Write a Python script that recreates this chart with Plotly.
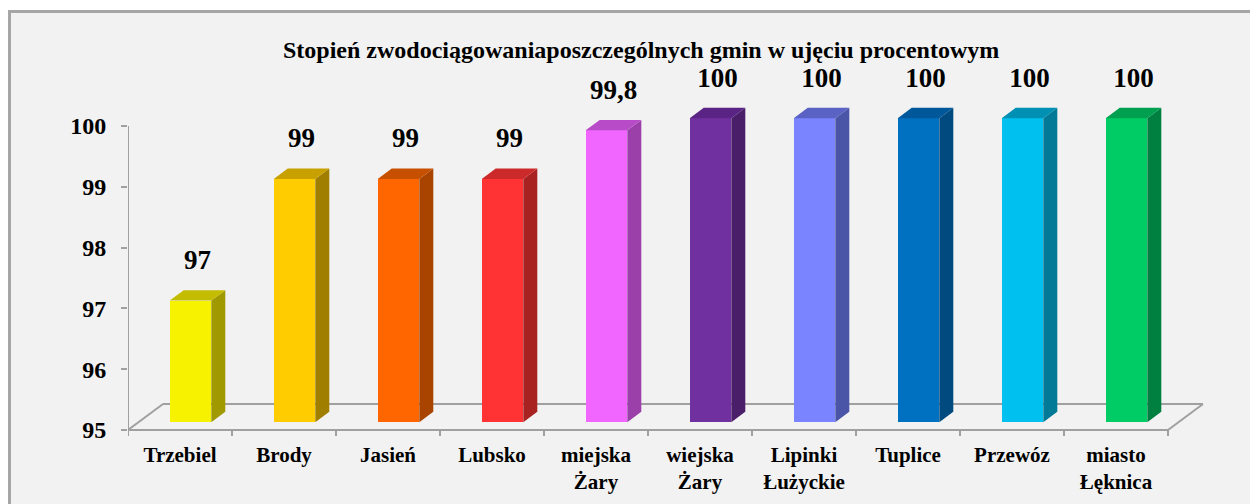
import plotly.graph_objects as go

# ---- data ----
categories = ["Trzebiel", "Brody", "Jasień", "Lubsko", "miejska<br>Żary", "wiejska<br>Żary",
              "Lipinki<br>Łużyckie", "Tuplice", "Przewóz", "miasto<br>Łęknica"]
values = [97, 99, 99, 99, 99.8, 100, 100, 100, 100, 100]
value_labels = ["97", "99", "99", "99", "99,8", "100", "100", "100", "100", "100"]
y_ticks = [95, 96, 97, 98, 99, 100]
title_text = "Stopień zwodociągowaniaposzczególnych gmin w ujęciu procentowym"

front_colors = ["#f7f300", "#ffcc00", "#ff6600", "#ff3333", "#f066ff", "#7030a0",
                "#7b84ff", "#0070c0", "#00c0f0", "#00cc66"]
side_colors = ["#a09a00", "#a07f00", "#a84400", "#a82222", "#9a40a8", "#4a1e68",
               "#4a55a8", "#004a80", "#007a96", "#008040"]
top_colors = ["#c4bc00", "#c8a000", "#c65000", "#cc2a2a", "#b84cc8", "#5a2484",
              "#5a62c4", "#00589a", "#0090b4", "#00a050"]

# ---- geometry ----
PAGE_OFF = 8                 # default body margin of the html page
W, H = 1258 - PAGE_OFF, 504 - PAGE_OFF
PLOT_L, PLOT_R, PLOT_T, PLOT_B = 128, 1205, 60, 440   # page pixels
L_M = PLOT_L - PAGE_OFF
T_M = PLOT_T - PAGE_OFF
R_M = W - (PLOT_R - PAGE_OFF)
B_M = H - (PLOT_B - PAGE_OFF)
plot_w = PLOT_R - PLOT_L
plot_h = PLOT_B - PLOT_T

PPU_X = 104.0
PPU_Y = 60.8
BASE = 95
DX = 35 / PPU_X       # full floor depth, x
DY = 26 / PPU_Y       # full floor depth, y
D0, D1 = 0.3, 0.7     # bar depth range
BW = 0.4              # bar width

x_min = -0.5
x_max = x_min + plot_w / PPU_X
y_min = BASE - (PLOT_B - 430) / PPU_Y
y_max = y_min + plot_h / PPU_Y

font_fam = "Liberation Serif, Times New Roman, serif"
gray = "#a0a0a0"
n = len(categories)

fig = go.Figure()

# floor (shapes below traces so bars cover the back edge)
floor_pts = [(x_min, BASE), (n - 0.5, BASE), (n - 0.5 + DX, BASE + DY), (x_min + DX, BASE + DY)]
for k in range(4):
    (xa, ya), (xb, yb) = floor_pts[k], floor_pts[(k + 1) % 4]
    fig.add_shape(type="line", xref="x", yref="y", x0=xa, y0=ya, x1=xb, y1=yb,
                  line=dict(color=gray, width=2), layer="below")

# category ticks
tx, ty = [], []
for k in range(n + 1):
    tx += [k - 0.5, k - 0.5, None]
    ty += [BASE, BASE - 6 / PPU_Y, None]
fig.add_trace(go.Scatter(x=tx, y=ty, mode="lines", line=dict(color=gray, width=2),
                         hoverinfo="skip", showlegend=False))
# value axis line
fig.add_trace(go.Scatter(x=[x_min, x_min], y=[BASE, max(y_ticks)], mode="lines",
                         line=dict(color=gray, width=2), hoverinfo="skip", showlegend=False))

# bar front faces
fig.add_trace(go.Bar(x=[i + D0 * DX for i in range(n)], y=[v - BASE for v in values],
                     base=BASE + D0 * DY, width=BW, marker=dict(color=front_colors, line=dict(width=0)),
                     hoverinfo="skip", showlegend=False))

# side and top faces
dd = D1 - D0
for i, v in enumerate(values):
    xl = i + D0 * DX - BW / 2
    xr = i + D0 * DX + BW / 2
    yb = BASE + D0 * DY
    yt = v + D0 * DY
    fig.add_trace(go.Scatter(
        x=[xr, xr + dd * DX, xr + dd * DX, xr, xr],
        y=[yb, yb + dd * DY, yt + dd * DY, yt, yb],
        fill="toself", fillcolor=side_colors[i], mode="lines", line=dict(width=0),
        hoverinfo="skip", showlegend=False))
    fig.add_trace(go.Scatter(
        x=[xl, xr, xr + dd * DX, xl + dd * DX, xl],
        y=[yt, yt, yt + dd * DY, yt + dd * DY, yt],
        fill="toself", fillcolor=top_colors[i], mode="lines", line=dict(width=0),
        hoverinfo="skip", showlegend=False))

# data labels
fig.add_trace(go.Scatter(
    x=[i + D0 * DX + dd * DX / 2 for i in range(n)],
    y=[v + D1 * DY + 0.46 for v in values],
    mode="text", text=value_labels, textposition="middle center",
    textfont=dict(family=font_fam, size=27, color="black", weight="bold"),
    hoverinfo="skip", showlegend=False, cliponaxis=False))

def px2paper_x(px):
    return (px - PLOT_L) / plot_w

def px2paper_y(py):
    return (PLOT_B - py) / plot_h

fig.add_shape(type="rect", xref="paper", yref="paper",
              x0=px2paper_x(9.5), x1=px2paper_x(1275), y0=px2paper_y(11.5), y1=px2paper_y(530),
              fillcolor="#f2f2f2", line=dict(color="#a6a6a6", width=3), layer="below")

fig.add_annotation(text="<b>" + title_text + "</b>", xref="paper", yref="paper",
                   x=px2paper_x(641), y=px2paper_y(50), xanchor="center", yanchor="middle",
                   showarrow=False, font=dict(family=font_fam, size=24, color="black"))

fig.update_layout(
    width=W, height=H,
    margin=dict(l=L_M, r=R_M, t=T_M, b=B_M, pad=0, autoexpand=False),
    paper_bgcolor="white", plot_bgcolor="rgba(0,0,0,0)",
    xaxis=dict(range=[x_min, x_max], tickmode="array", tickvals=list(range(n)),
               ticktext=["<b>" + c.replace("<br>", "</b><br><b>") + "</b>" for c in categories],
               showgrid=False, zeroline=False, showline=False, ticks="", automargin=False,
               tickfont=dict(family=font_fam, size=21, color="black")),
    yaxis=dict(range=[y_min, y_max], tickmode="array", tickvals=y_ticks,
               ticktext=["<b>%d</b>" % t for t in y_ticks], automargin=False,
               showgrid=False, zeroline=False, showline=False,
               ticks="outside", ticklen=6, tickwidth=2, tickcolor=gray, ticklabelstandoff=10,
               tickfont=dict(family=font_fam, size=24, color="black")),
    bargap=0,
)

fig.write_html("out.html")
